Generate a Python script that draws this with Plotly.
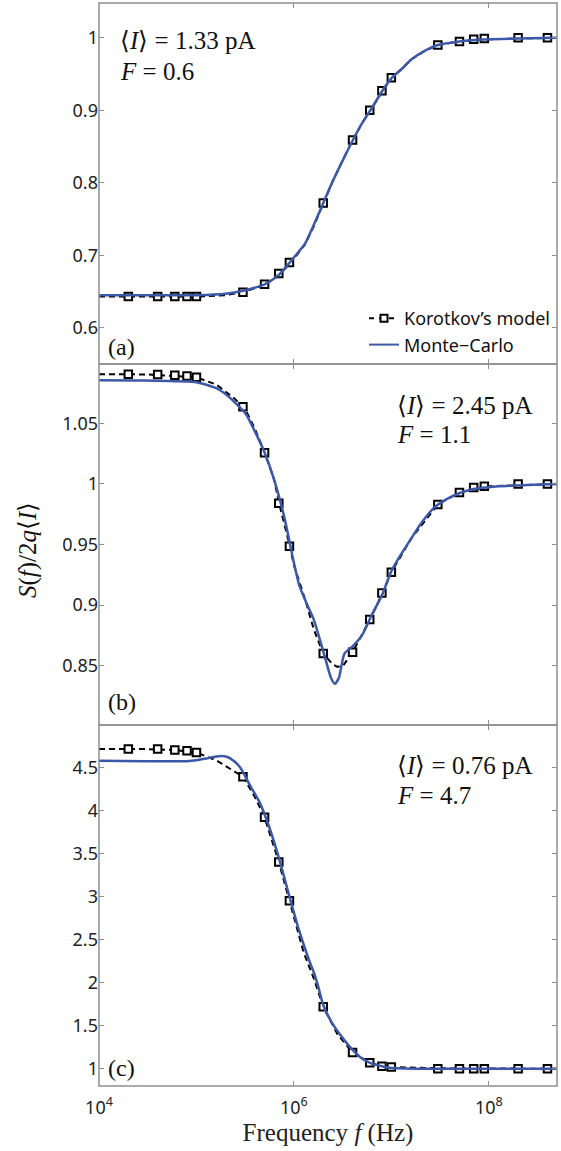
import plotly.graph_objects as go

# ---------------- data ----------------
# Korotkov's model: marker frequencies (Hz)
marker_f = [2e4, 4e4, 6e4, 8e4, 1e5, 3e5, 5e5, 7e5, 9e5, 2e6, 4e6, 6e6, 8e6,
            1e7, 3e7, 5e7, 7e7, 9e7, 2e8, 4e8]

# Panel (a)  <I> = 1.33 pA, F = 0.6
a_mark = [0.643, 0.643, 0.643, 0.643, 0.643, 0.649, 0.660, 0.675, 0.690, 0.772,
          0.859, 0.900, 0.927, 0.945, 0.990, 0.995, 0.998, 0.999, 1.000, 1.000]
a_model_f = [1e4, 3e4, 1e5, 2e5, 3e5, 5e5, 7e5, 1e6, 1.3e6, 1.6e6, 2e6, 2.5e6, 3.2e6,
             4e6, 5e6, 6.3e6, 8e6, 1e7, 1.3e7, 1.6e7, 2.2e7, 3e7, 5e7, 1e8, 2e8, 5e8]
a_model_v = [0.643, 0.643, 0.643, 0.645, 0.649, 0.659, 0.672, 0.695, 0.715, 0.740,
             0.772, 0.802, 0.832, 0.859, 0.882, 0.903, 0.926, 0.945, 0.958, 0.970,
             0.982, 0.990, 0.995, 0.998, 0.999, 1.000]
a_mc_f = [1e4, 3e4, 1e5, 2e5, 3e5, 5e5, 7e5, 1e6, 1.3e6, 1.6e6, 2e6, 2.5e6, 3.2e6,
          4e6, 5e6, 6.3e6, 8e6, 1e7, 1.3e7, 1.6e7, 2.2e7, 3e7, 5e7, 1e8, 2e8, 5e8]
a_mc_v = [0.645, 0.645, 0.645, 0.647, 0.651, 0.660, 0.673, 0.697, 0.716, 0.742,
          0.772, 0.802, 0.832, 0.858, 0.882, 0.903, 0.926, 0.944, 0.958, 0.970,
          0.982, 0.990, 0.995, 0.998, 0.999, 1.000]

# Panel (b)  <I> = 2.45 pA, F = 1.1
b_mark = [1.0905, 1.0903, 1.0898, 1.0890, 1.0880, 1.0638, 1.0257, 0.984, 0.9486, 0.860,
          0.861, 0.888, 0.910, 0.927, 0.983, 0.993, 0.997, 0.998, 1.000, 1.000]
b_model_f = [1e4, 3e4, 1e5, 1.6e5, 2.5e5, 3.2e5, 4e5, 5e5, 6.3e5, 7e5, 9e5, 1e6,
             1.3e6, 1.6e6, 2e6, 2.5e6, 2.8e6, 3.2e6, 4e6, 5e6, 6.3e6, 8e6, 1e7,
             1.6e7, 3e7, 5e7, 1e8, 5e8]
b_model_v = [1.0906, 1.0904, 1.0880, 1.0820, 1.0700, 1.0610, 1.0450, 1.0260, 1.0030,
             0.9850, 0.9500, 0.9330, 0.9050, 0.8800, 0.8600, 0.8510, 0.8490, 0.8500,
             0.8610, 0.8760, 0.8910, 0.9090, 0.9270, 0.9550, 0.9830, 0.9930, 0.9980,
             1.0000]
b_mc_f = [1e4, 3e4, 1e5, 1.6e5, 2e5, 2.5e5, 3.2e5, 4e5, 5e5, 6.3e5, 8e5, 1e6, 1.12e6,
          1.26e6, 1.41e6, 1.6e6, 2e6, 2.4e6, 2.63e6, 2.9e6, 3.3e6, 4e6, 5e6, 6.3e6,
          8e6, 1e7, 1.26e7, 1.6e7, 2e7, 2.8e7, 4e7, 6.3e7, 1.26e8, 5e8]
b_mc_v = [1.0855, 1.0853, 1.0840, 1.0790, 1.0740, 1.0670, 1.0580, 1.0430, 1.0260,
          1.0030, 0.9720, 0.9350, 0.9180, 0.9070, 0.8980, 0.8880, 0.8620, 0.8400,
          0.8350, 0.8400, 0.8600, 0.8660, 0.8750, 0.8920, 0.9080, 0.9280, 0.9420,
          0.9550, 0.9670, 0.9810, 0.9890, 0.9950, 0.9980, 1.0000]

# Panel (c)  <I> = 0.76 pA, F = 4.7
c_mark = [4.71, 4.71, 4.70, 4.69, 4.67, 4.39, 3.92, 3.40, 2.95, 1.72,
          1.19, 1.07, 1.03, 1.02, 1.00, 1.00, 1.00, 1.00, 1.00, 1.00]
c_model_f = [1e4, 3e4, 6e4, 1e5, 1.6e5, 2.5e5, 3e5, 4e5, 5e5, 7e5, 9e5, 1.26e6,
             1.6e6, 2e6, 2.8e6, 4e6, 6e6, 8e6, 1e7, 3e7, 5e8]
c_model_v = [4.71, 4.71, 4.70, 4.67, 4.58, 4.45, 4.39, 4.15, 3.92, 3.40, 2.95, 2.35,
             2.05, 1.72, 1.40, 1.19, 1.07, 1.03, 1.02, 1.005, 1.00]
c_mc_f = [1e4, 3e4, 8e4, 1e5, 1.26e5, 1.6e5, 2e5, 2.24e5, 2.8e5, 3.5e5, 4.5e5,
          5.6e5, 7e5, 9e5, 1.12e6, 1.41e6, 1.6e6, 1.78e6, 2e6, 2.5e6, 3.2e6, 4e6,
          5e6, 6.3e6, 8e6, 1e7, 3e7, 5e8]
c_mc_v = [4.575, 4.570, 4.570, 4.580, 4.600, 4.625, 4.625, 4.600, 4.500, 4.300,
          4.080, 3.800, 3.450, 3.000, 2.620, 2.280, 2.120, 1.950, 1.740, 1.520,
          1.350, 1.220, 1.120, 1.060, 1.030, 1.010, 1.000, 1.000]

panel_texts = [("⟨<i>I</i>⟩ = 1.33 pA", "<i>F</i> = 0.6"),
               ("⟨<i>I</i>⟩ = 2.45 pA", "<i>F</i> = 1.1"),
               ("⟨<i>I</i>⟩ = 0.76 pA", "<i>F</i> = 4.7")]
panel_labels = ["(a)", "(b)", "(c)"]
y_ranges = [[0.55, 1.048], [0.801, 1.099], [0.80, 4.99]]
y_ticks = [[0.6, 0.7, 0.8, 0.9, 1.0],
           [0.85, 0.9, 0.95, 1.0, 1.05],
           [1, 1.5, 2, 2.5, 3, 3.5, 4, 4.5]]
y_ticktext = [["0.6", "0.7", "0.8", "0.9", "1"],
              ["0.85", "0.9", "0.95", "1", "1.05"],
              ["1", "1.5", "2", "2.5", "3", "3.5", "4", "4.5"]]
x_tickvals = [1e4, 1e6, 1e8]
x_ticktext = ["10<sup>4</sup>", "10<sup>6</sup>", "10<sup>8</sup>"]

legend_names = ["Korotkov’s model", "Monte−Carlo"]

# ---------------- styles ----------------
BLUE = "#3c58a8"
FRAME = "#8f8f8f"
SANS = "Noto Sans"
SERIF = "Liberation Serif"

W, H = 561, 1151
ml, mr, mt, mb = 99, 4, 3, 65
plot_w = W - ml - mr
plot_h = H - mt - mb


def px_x(x):
    return (x - ml) / plot_w


def px_y(y):
    return (H - mb - y) / plot_h


fig = go.Figure()

panels = [
    (marker_f, a_mark, a_model_f, a_model_v, a_mc_f, a_mc_v),
    (marker_f, b_mark, b_model_f, b_model_v, b_mc_f, b_mc_v),
    (marker_f, c_mark, c_model_f, c_model_v, c_mc_f, c_mc_v),
]

bounds_px = [(3, 364), (364, 725), (725, 1086)]

for i, (mf, mv, df, dv, cf, cv) in enumerate(panels):
    ax = "" if i == 0 else str(i + 1)
    xa, ya = "x" + ax, "y" + ax
    fig.add_trace(go.Scatter(x=df, y=dv, mode="lines", xaxis=xa, yaxis=ya,
                             line=dict(color="black", width=2, dash="6px,4px"),
                             showlegend=False, hoverinfo="skip"))
    fig.add_trace(go.Scatter(x=mf, y=mv, mode="markers", xaxis=xa, yaxis=ya,
                             marker=dict(symbol="square", size=7.5, color="white",
                                         line=dict(color="black", width=2)),
                             showlegend=False, hoverinfo="skip"))
    fig.add_trace(go.Scatter(x=cf, y=cv, mode="lines", xaxis=xa, yaxis=ya,
                             line=dict(color=BLUE, width=2.5, shape="spline", smoothing=0.6),
                             showlegend=False, hoverinfo="skip"))

# legend-only traces
fig.add_trace(go.Scatter(x=[None], y=[None], mode="lines+markers", name=legend_names[0],
                         line=dict(color="black", width=2, dash="5px,5px"),
                         marker=dict(symbol="square", size=7, color="white",
                                     line=dict(color="black", width=2))))
fig.add_trace(go.Scatter(x=[None], y=[None], mode="lines", name=legend_names[1],
                         line=dict(color=BLUE, width=2)))

layout = dict(width=W, height=H, margin=dict(l=ml, r=mr, t=mt, b=mb),
              paper_bgcolor="white", plot_bgcolor="white",
              font=dict(family=SANS, size=17, color="#222"),
              legend=dict(x=px_x(364), y=px_y(300), xanchor="left", yanchor="top",
                          bgcolor="rgba(0,0,0,0)", font=dict(family=SANS, size=18, color="#111"),
                          itemwidth=30, tracegroupgap=0))

shapes = []
for i in range(3):
    top, bot = bounds_px[i]
    dom = [px_y(bot), px_y(top)]
    sx = "" if i == 0 else str(i + 1)
    xkey, ykey = "xaxis" + sx, "yaxis" + sx
    layout[xkey] = dict(type="log", range=[4, 8.70], domain=[0, 1], anchor="y" + sx,
                        tickvals=x_tickvals, ticktext=x_ticktext if i == 2 else ["", "", ""],
                        ticks="inside", ticklen=5, tickcolor=FRAME, tickwidth=1,
                        showline=False, mirror="ticks",
                        showgrid=False, zeroline=False, ticklabelstandoff=9,
                        tickfont=dict(family=SANS, size=18, color="#222"))
    if i == 2:
        layout[xkey]["title"] = dict(text="Frequency <i>f</i> (Hz)",
                                     font=dict(family=SERIF, size=25, color="#222"),
                                     standoff=3)
    layout[ykey] = dict(range=y_ranges[i], domain=dom, anchor="x" + sx,
                        tickvals=y_ticks[i], ticktext=y_ticktext[i],
                        ticks="inside", ticklen=5, tickcolor=FRAME, tickwidth=1,
                        showline=False, mirror="ticks",
                        showgrid=False, zeroline=False,
                        tickfont=dict(family=SANS, size=18, color="#222"))
    shapes.append(dict(type="rect", xref="paper", yref="paper", x0=0, x1=1,
                       y0=dom[0], y1=dom[1], line=dict(color=FRAME, width=1.5),
                       fillcolor="rgba(0,0,0,0)", layer="above"))

layout["shapes"] = shapes
fig.update_layout(**layout)

# annotations
ann = []
text_pos = [(118, 40, 72), (395, 405, 434), (395, 766, 795)]
for i in range(3):
    x_px, y1, y2 = text_pos[i]
    for txt, ypx in ((panel_texts[i][0], y1), (panel_texts[i][1], y2)):
        ann.append(dict(text=txt, xref="paper", yref="paper",
                        x=px_x(x_px), y=px_y(ypx),
                        xanchor="left", yanchor="middle", showarrow=False,
                        font=dict(family=SERIF, size=25, color="#111")))
label_y = [347, 702, 1068]
for i in range(3):
    ann.append(dict(text=panel_labels[i], xref="paper", yref="paper",
                    x=px_x(106), y=px_y(label_y[i]),
                    xanchor="left", yanchor="middle", showarrow=False,
                    font=dict(family=SERIF, size=24, color="#111")))

ann.append(dict(text="<i>S</i>(<i>f</i>)/2<i>q</i>⟨<i>I</i>⟩", xref="paper", yref="paper",
                x=px_x(28), y=px_y(550),
                xanchor="center", yanchor="middle", textangle=-90, showarrow=False,
                font=dict(family=SERIF, size=25, color="#111")))
fig.update_layout(annotations=ann)

fig.write_html("out.html", config={"displayModeBar": False},
               post_script="document.body.style.margin='0';document.body.style.overflow='hidden';")
